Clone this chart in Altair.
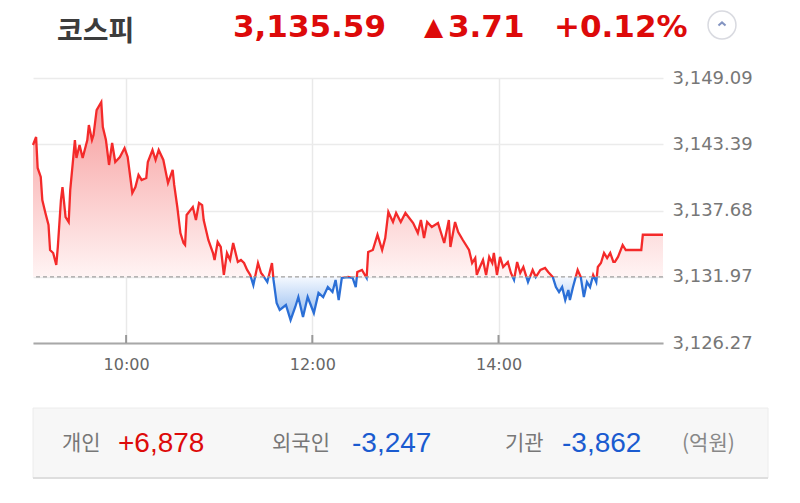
import altair as alt
import pandas as pd

# ---------------- data ----------------
TIMES = [
    "09:00", "09:02", "09:03", "09:05", "09:06", "09:08", "09:10", "09:11", "09:13", "09:15",
    "09:16", "09:18", "09:19", "09:21", "09:23", "09:24", "09:26", "09:27", "09:28", "09:30",
    "09:32", "09:35", "09:36", "09:38", "09:39", "09:41", "09:44", "09:45", "09:47", "09:49",
    "09:51", "09:53", "09:56", "09:59", "10:01", "10:04", "10:06", "10:08", "10:10", "10:13",
    "10:14", "10:17", "10:19", "10:21", "10:24", "10:27", "10:30", "10:31", "10:33", "10:35",
    "10:37", "10:38", "10:39", "10:43", "10:45", "10:47", "10:49", "10:50", "10:53", "10:56",
    "10:57", "10:59", "11:01", "11:03", "11:05", "11:07", "11:09", "11:12", "11:14", "11:16",
    "11:18", "11:20", "11:22", "11:25", "11:27", "11:28", "11:31", "11:34", "11:35", "11:37",
    "11:39", "11:43", "11:46", "11:49", "11:51", "11:54", "11:57", "12:01", "12:04", "12:07",
    "12:10", "12:13", "12:15", "12:17", "12:19", "12:23", "12:26", "12:28", "12:29", "12:32",
    "12:35", "12:36", "12:39", "12:42", "12:45", "12:47", "12:49", "12:52", "12:54", "12:57",
    "13:00", "13:05", "13:08", "13:10", "13:12", "13:14", "13:17", "13:21", "13:23", "13:25",
    "13:28", "13:29", "13:32", "13:34", "13:37", "13:41", "13:43", "13:45", "13:46", "13:48",
    "13:50", "13:52", "13:54", "13:56", "13:57", "13:59", "14:01", "14:03", "14:06", "14:08",
    "14:10", "14:12", "14:14", "14:16", "14:19", "14:22", "14:24", "14:27", "14:30", "14:32",
    "14:35", "14:37", "14:39", "14:41", "14:43", "14:45", "14:46", "14:48", "14:51", "14:53",
    "14:55", "14:57", "14:59", "15:01", "15:03", "15:04", "15:06", "15:08", "15:10", "15:12",
    "15:14", "15:15", "15:17", "15:20", "15:22", "15:32", "15:33", "15:46",
]

VALUES = [
    3143.32, 3144.01, 3141.34, 3140.57, 3138.58, 3137.47, 3136.43, 3134.28, 3134.02, 3132.99,
    3134.54, 3138.58, 3139.70, 3137.12, 3136.69, 3139.45, 3142.29, 3143.75, 3142.20, 3143.32,
    3142.20, 3143.75, 3145.04, 3143.75, 3144.18, 3146.33, 3147.02, 3144.87, 3143.75, 3141.60,
    3143.49, 3141.86, 3142.29, 3143.06, 3142.29, 3139.19, 3139.70, 3140.74, 3140.31, 3140.48,
    3141.86, 3142.89, 3142.03, 3142.89, 3142.03, 3140.05, 3141.17, 3139.88, 3137.98, 3135.74,
    3134.88, 3134.71, 3137.29, 3137.98, 3136.86, 3138.33, 3138.15, 3136.86, 3135.14, 3134.02,
    3133.42, 3134.97, 3134.54, 3132.13, 3134.02, 3133.42, 3134.88, 3133.25, 3133.42, 3133.16,
    3132.56, 3132.13, 3131.26, 3133.16, 3132.30, 3132.13, 3131.52, 3133.16, 3131.70, 3129.72,
    3129.11, 3129.54, 3128.25, 3129.37, 3130.23, 3128.51, 3130.23, 3128.85, 3130.58, 3130.23,
    3131.09, 3130.66, 3131.70, 3129.97, 3131.87, 3131.95, 3131.87, 3131.09, 3132.38, 3132.56,
    3131.87, 3134.11, 3134.28, 3135.59, 3134.28, 3135.31, 3137.55, 3136.69, 3137.47, 3136.69,
    3137.47, 3136.60, 3135.74, 3136.86, 3135.31, 3136.69, 3136.26, 3136.60, 3135.74, 3134.88,
    3136.86, 3134.54, 3136.69, 3135.83, 3135.14, 3134.28, 3133.16, 3133.59, 3132.13, 3132.81,
    3133.42, 3132.13, 3133.68, 3133.16, 3134.02, 3132.13, 3133.68, 3132.81, 3133.25, 3132.30,
    3131.70, 3133.25, 3132.30, 3132.81, 3131.52, 3132.56, 3131.95, 3132.56, 3132.73, 3132.38,
    3131.95, 3131.09, 3130.66, 3131.09, 3129.97, 3130.83, 3129.97, 3131.09, 3132.56, 3131.95,
    3130.23, 3131.52, 3131.09, 3132.13, 3131.52, 3132.81, 3133.16, 3134.02, 3133.59, 3134.02,
    3133.25, 3133.25, 3133.68, 3134.71, 3134.28, 3134.28, 3135.59, 3135.59,
]

Y_TICKS = [3126.27, 3131.97, 3137.68, 3143.39, 3149.09]
BASE = 3131.97
X_TICKS = ["10:00", "12:00", "14:00"]
X_START, X_END = "09:00", "15:46"
DAY = (2021, 6, 25)

HEADER_NAME = "코스피"
HEADER_PRICE = "3,135.59"
HEADER_ARROW = "▲"
HEADER_CHANGE = "3.71"
HEADER_PCT = "+0.12%"

INVESTORS = ["개인", "외국인", "기관"]
NET_BUY = ["+6,878", "-3,247", "-3,862"]
UNIT = "(억원)"

# ---------------- styling ----------------
RED = "#f42a2a"
BLUE = "#2b6fd6"
TXT_RED = "#dd0a0a"
TXT_BLUE = "#1a5bd0"
W, H = 630, 265
KFONT = "Noto Sans CJK KR"
NFONT = "Liberation Sans"
AFONT = "DejaVu Sans"


def dt(hhmm):
    h, m = hhmm.split(":")
    return alt.DateTime(year=DAY[0], month=DAY[1], date=DAY[2], hours=int(h), minutes=int(m))


def iso(hhmm):
    return f"{DAY[0]:04d}-{DAY[1]:02d}-{DAY[2]:02d}T{hhmm}:00"


df = pd.DataFrame({"time": [iso(t) for t in TIMES], "value": VALUES})
ticks_df = pd.DataFrame({"time": [iso(t) for t in X_TICKS]})

vmax, vmin = max(VALUES), min(VALUES)
f = (vmax - BASE) / (vmax - vmin)

line_grad = alt.LinearGradient(
    gradient="linear", x1=0, x2=0, y1=0, y2=1,
    stops=[
        alt.GradientStop(offset=0, color=RED),
        alt.GradientStop(offset=f, color=RED),
        alt.GradientStop(offset=f, color=BLUE),
        alt.GradientStop(offset=1, color=BLUE),
    ],
)
area_grad = alt.LinearGradient(
    gradient="linear", x1=0, x2=0, y1=0, y2=1,
    stops=[
        alt.GradientStop(offset=0, color="#f79c9c"),
        alt.GradientStop(offset=f, color="#fff4f4"),
        alt.GradientStop(offset=f, color="#f5f9ff"),
        alt.GradientStop(offset=1, color="#8fb8ee"),
    ],
)

x_enc = alt.X(
    "time:T",
    scale=alt.Scale(domain=[dt(X_START), dt(X_END)]),
    axis=alt.Axis(
        values=[dt(t) for t in X_TICKS], format="%H:%M", title=None,
        grid=True, gridColor="#e9e9e9", gridWidth=1.5, ticks=False,
        domain=True, domainColor="#a8a8a8", domainWidth=2,
        labelFont=AFONT, labelFontSize=16, labelColor="#666", labelPadding=13,
    ),
)
y_enc = alt.Y(
    "value:Q",
    scale=alt.Scale(domain=[Y_TICKS[0], Y_TICKS[-1]], nice=False, zero=False),
    axis=alt.Axis(
        orient="right", values=Y_TICKS, format=",.2f", title=None,
        grid=True, gridColor="#ebebeb", gridWidth=1.5, ticks=False, domain=False,
        labelFont=AFONT, labelFontSize=18, labelColor="#777", labelPadding=9,
    ),
)

base = alt.Chart(df)
area = base.mark_area(fill=area_grad, line=False).encode(x=x_enc, y=y_enc, y2=alt.datum(BASE))
line = base.mark_line(stroke=line_grad, strokeWidth=2.3).encode(x="time:T", y="value:Q")

base_rule = alt.Chart(pd.DataFrame({"v": [BASE]})).mark_rule(
    color="#a0a0a0", strokeDash=[4, 3], strokeWidth=1.3
).encode(y="v:Q")

tick_marks = alt.Chart(ticks_df).mark_rule(color="#999", strokeWidth=2).encode(
    x="time:T", y=alt.value(H - 8), y2=alt.value(H)
)


def label(s, x, y, size, color, font, weight="normal", align="left"):
    return alt.Chart(pd.DataFrame({"s": [s]})).mark_text(
        align=align, baseline="middle", fontSize=size, font=font,
        fontWeight=weight, color=color,
    ).encode(text="s:N", x=alt.value(x), y=alt.value(y))


HY = -50.5
header = [
    label(HEADER_NAME, 24, -45.5, 28, "#3c3c3c", KFONT, "bold"),
    label(HEADER_PRICE, 200, HY, 31, TXT_RED, AFONT, "bold"),
    label(HEADER_ARROW, 391, HY - 1, 25, TXT_RED, AFONT),
    label(HEADER_CHANGE, 415, HY, 31, TXT_RED, AFONT, "bold"),
    label(HEADER_PCT, 521, HY, 31, TXT_RED, AFONT, "bold"),
]

btn = alt.Chart(pd.DataFrame({"k": [0]})).mark_point(
    shape="circle", filled=True, fill="white", stroke="#c9cbd4", strokeWidth=1.5, size=780
).encode(x=alt.value(689), y=alt.value(-53))
chev = alt.Chart(pd.DataFrame({"k": [0]})).mark_point(
    shape="M -1 0.45 L 0 -0.45 L 1 0.45", filled=False, stroke="#5068a8", strokeWidth=2, size=50
).encode(x=alt.value(689), y=alt.value(-54))

box = alt.Chart(pd.DataFrame({"k": [0]})).mark_rect(
    fill="#f7f7f7", stroke="#ececec", strokeWidth=1
).encode(x=alt.value(0), x2=alt.value(735), y=alt.value(330), y2=alt.value(400))
box_line = alt.Chart(pd.DataFrame({"k": [0]})).mark_rule(color="#dedede", strokeWidth=2).encode(
    x=alt.value(0), x2=alt.value(735), y=alt.value(400)
)

FY = 366
footer = [
    label(INVESTORS[0], 29, FY, 21, "#777", KFONT),
    label(NET_BUY[0], 85, FY, 28, TXT_RED, NFONT),
    label(INVESTORS[1], 239, FY, 21, "#777", KFONT),
    label(NET_BUY[1], 319, FY, 28, TXT_BLUE, NFONT),
    label(INVESTORS[2], 472, FY, 21, "#777", KFONT),
    label(NET_BUY[2], 529, FY, 28, TXT_BLUE, NFONT),
    label(UNIT, 649, FY, 21, "#888", KFONT),
]

chart = alt.layer(
    area, line, base_rule, tick_marks, *header, btn, chev, box, box_line, *footer
).properties(
    width=W, height=H,
    autosize=alt.AutoSizeParams(type="none"),
    padding={"left": 25, "top": 70, "right": 129, "bottom": 145},
).configure_view(stroke="transparent")

chart.save("out.html", embed_options={"renderer": "svg", "actions": False})
